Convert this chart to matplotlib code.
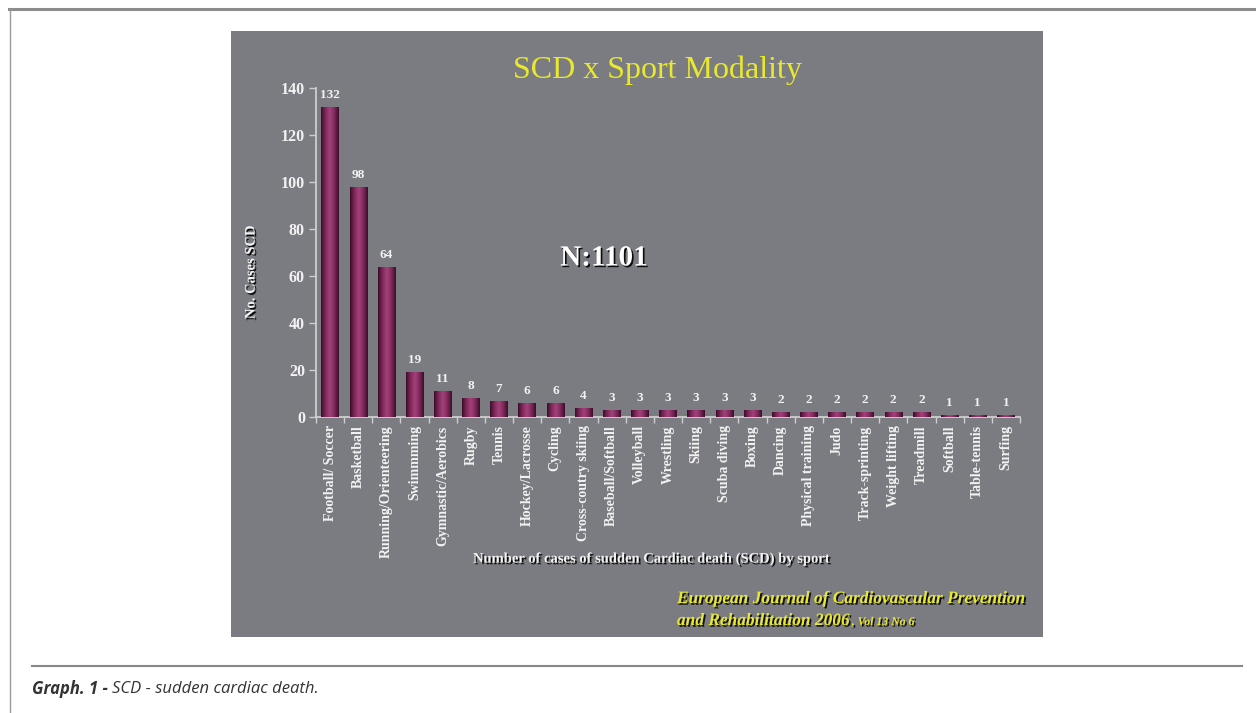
import numpy as np
import matplotlib.pyplot as plt
import matplotlib.patheffects as pe
from matplotlib.patches import Rectangle
from matplotlib.lines import Line2D
from matplotlib.colors import LinearSegmentedColormap

# -----------------------------
# Data
# -----------------------------
sports = [
    "Football/ Soccer", "Basketball", "Running/Orienteering", "Swimmming",
    "Gymnastic/Aerobics", "Rugby", "Tennis", "Hockey/Lacrosse", "Cycling",
    "Cross-coutry skiing", "Baseball/Softball", "Volleyball", "Wrestling",
    "Skiing", "Scuba diving", "Boxing", "Dancing", "Physical training",
    "Judo", "Track-sprinting", "Weight lifting", "Treadmill", "Softball",
    "Table-tennis", "Surfing",
]
cases = [132, 98, 64, 19, 11, 8, 7, 6, 6, 4, 3, 3, 3, 3, 3, 3,
         2, 2, 2, 2, 2, 2, 1, 1, 1]
y_ticks = [0, 20, 40, 60, 80, 100, 120, 140]

# -----------------------------
# Styles
# -----------------------------
PANEL = "#7b7c81"
TXT = "#f2f2f2"
YELLOW = "#e8e82c"
AXIS = "#cfcfcf"
SERIF = ["Liberation Serif", "DejaVu Serif"]
CAPTION_FONT = ["Open Sans", "DejaVu Sans"]
shadow = [pe.withSimplePatchShadow(offset=(1.2, -1.2), shadow_rgbFace="black", alpha=0.9)]

fig = plt.figure(figsize=(12.56, 7.13), dpi=100)
fig.patch.set_facecolor("white")

# page frame
fig.add_artist(Line2D([9 / 1256, 1], [704 / 713, 704 / 713], color="#8c8c8c", lw=2.2))
fig.add_artist(Line2D([10 / 1256, 10 / 1256], [0, 704 / 713], color="#9a9a9a", lw=1.0))
fig.add_artist(Line2D([32 / 1256, 1242 / 1256], [47 / 713, 47 / 713], color="#888888", lw=1.5))

# grey slide panel
fig.add_artist(Rectangle((231 / 1256, 76 / 713), 812 / 1256, 606 / 713,
                         transform=fig.transFigure, facecolor=PANEL, edgecolor="none", zorder=0))

ax = fig.add_axes([316 / 1256, 296 / 713, 704 / 1256, 329 / 713])
ax.set_facecolor("none")

x = np.arange(len(sports))
bars = ax.bar(x, cases, width=0.62, color="#7a2455", zorder=2)

# cylinder-like gradient on each bar
grad_cmap = LinearSegmentedColormap.from_list(
    "bar", ["#3e0c28", "#7e2a5c", "#a4417a", "#7e2a5c", "#3e0c28"])
grad = np.linspace(0, 1, 64).reshape(1, -1)
for b in bars:
    x0, y0 = b.get_x(), b.get_y()
    im = ax.imshow(grad, cmap=grad_cmap, aspect="auto", zorder=3,
                   extent=[x0, x0 + b.get_width(), y0, y0 + b.get_height()])
    im.set_clip_path(b)

for xi, v in zip(x, cases):
    ax.text(xi, v + 2.5, str(v), ha="center", va="bottom", color=TXT,
            fontsize=9.5, fontweight="bold", family=SERIF)

ax.set_xlim(-0.5, len(sports) - 0.5)
ax.set_ylim(0, 140)
ax.set_yticks(y_ticks)
ax.set_yticklabels([str(t) for t in y_ticks], family=SERIF, fontsize=11.5,
                   fontweight="bold", color=TXT)
ax.set_xticks(x)
ax.set_xticklabels(sports, rotation=90, family=SERIF, fontsize=10,
                   fontweight="bold", color=TXT)
ax.tick_params(axis="x", length=0, pad=6)
ax.set_xticks(np.arange(-0.5, len(sports)), minor=True)
ax.tick_params(axis="x", which="minor", length=4, color=AXIS, width=1)
ax.tick_params(axis="y", length=5, color=AXIS, width=1, pad=3)

for s in ["top", "right"]:
    ax.spines[s].set_visible(False)
for s in ["left", "bottom"]:
    ax.spines[s].set_color(AXIS)
    ax.spines[s].set_linewidth(1.3)

# titles and labels
fig.text(657 / 1256, 643 / 713, "SCD x Sport Modality", ha="center", va="center",
         color=YELLOW, fontsize=23, family=SERIF)
fig.text(604 / 1256, 455 / 713, "N:1101", ha="center", va="center",
         color="white", fontsize=21, fontweight="bold", family=SERIF,
         path_effects=shadow)
fig.text(251 / 1256, 441 / 713, "No. Cases SCD", rotation=90, ha="center", va="center",
         color=TXT, fontsize=10.5, fontweight="bold", family=SERIF, path_effects=shadow)
fig.text(652 / 1256, 154 / 713, "Number of cases of sudden Cardiac death (SCD) by sport",
         ha="center", va="center", color=TXT, fontsize=10.5, fontweight="bold",
         family=SERIF, path_effects=shadow)

fig.text(677 / 1256, 110 / 713, "European Journal of Cardiovascular Prevention",
         ha="left", va="baseline", color=YELLOW, fontsize=12.5, fontweight="bold",
         style="italic", family=SERIF, path_effects=shadow)
t2 = fig.text(677 / 1256, 88 / 713, "and Rehabilitation 2006",
              ha="left", va="baseline", color=YELLOW, fontsize=12.5, fontweight="bold",
              style="italic", family=SERIF, path_effects=shadow)

# caption
c1 = fig.text(32 / 1256, 24 / 713, "Graph. 1 -", ha="left", va="center", color="#333333",
              fontsize=12, fontweight="bold", style="italic", family=CAPTION_FONT)

fig.canvas.draw()
r = fig.canvas.get_renderer()
inv = fig.transFigure.inverted()
e2 = t2.get_window_extent(r)
fig.text(inv.transform((e2.x1 + 1, e2.y0))[0], 88 / 713, ", Vol 13 No 6",
         ha="left", va="baseline", color=YELLOW, fontsize=8.5, fontweight="bold",
         style="italic", family=SERIF, path_effects=shadow)
e1 = c1.get_window_extent(r)
fig.text(inv.transform((e1.x1 + 4, e1.y0))[0], 24 / 713, "SCD - sudden cardiac death.",
         ha="left", va="center", color="#333333", fontsize=12, style="italic",
         family=CAPTION_FONT)

fig.savefig("out.png", dpi=100)
